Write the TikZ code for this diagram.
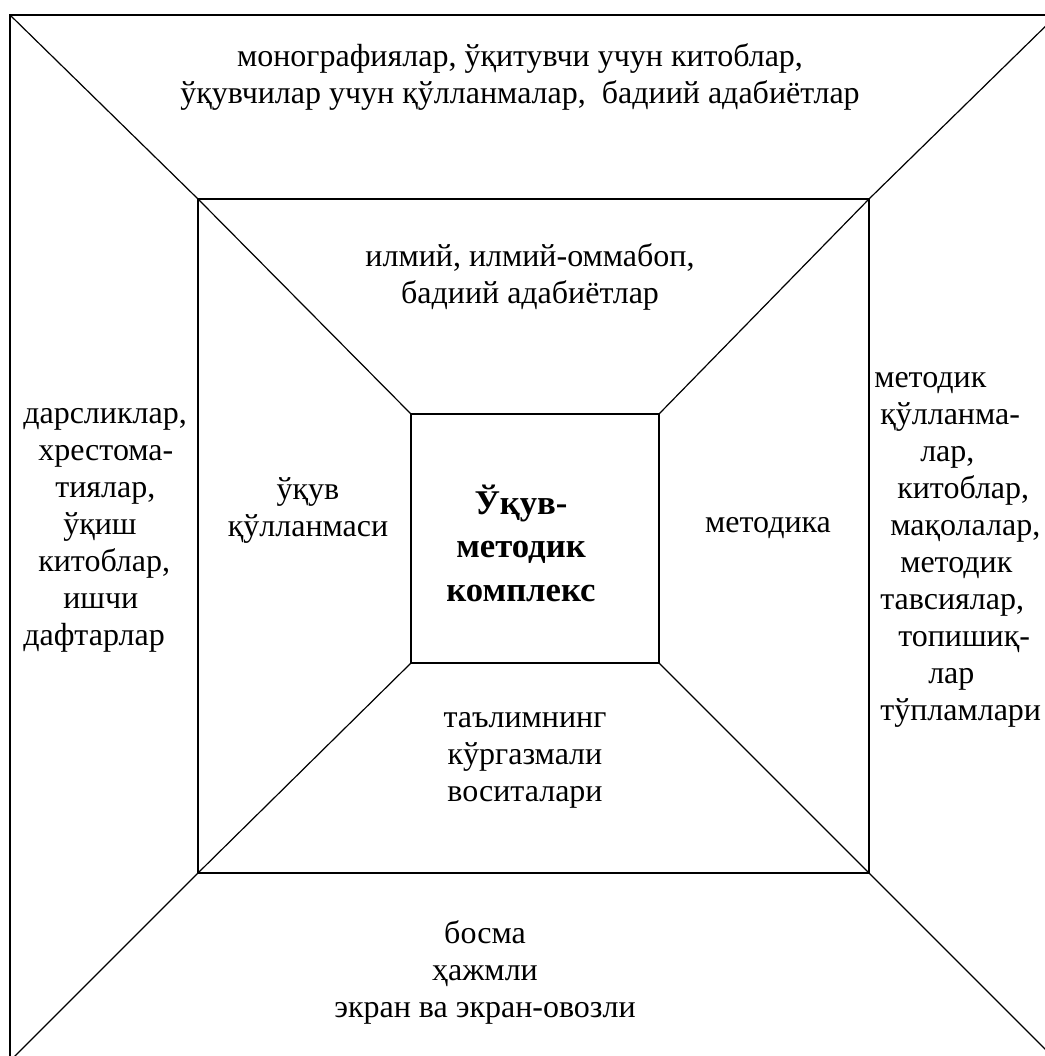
\documentclass[tikz,border=0pt]{standalone}
\usepackage{fontspec}
\setmainfont{Liberation Serif}
\begin{document}
\begin{tikzpicture}[x=0.75pt,y=-0.75pt]
\tikzset{
  frame/.style={line width=1.5pt, line join=miter},
  diag/.style={line width=0.9pt},
  txt/.style={font=\fontsize{24}{27.75}\selectfont, inner sep=0pt, align=center},
  sidetxt/.style={font=\fontsize{24}{27.75}\selectfont, inner sep=0pt, align=left, anchor=west},
  ctxt/.style={font=\fontsize{26}{32.6}\selectfont\bfseries, inner sep=0pt, align=center}
}
\useasboundingbox (0,0) rectangle (1045,1056);
\fill[white] (0,0) rectangle (1045,1056);
\clip (0,0) rectangle (1045,1056);
% corners
\coordinate (o1) at (10,15);   \coordinate (o2) at (1057,15);
\coordinate (o3) at (1057,1061); \coordinate (o4) at (10,1061);
\coordinate (m1) at (198,199); \coordinate (m2) at (869,199);
\coordinate (m3) at (869,873); \coordinate (m4) at (198,873);
\coordinate (i1) at (411,414); \coordinate (i2) at (659,414);
\coordinate (i3) at (659,663); \coordinate (i4) at (411,663);
% diagonals
\draw[diag] (o1) -- (m1) -- (i1);
\draw[diag] (o2) -- (m2) -- (i2);
\draw[diag] (o3) -- (m3) -- (i3);
\draw[diag] (o4) -- (m4) -- (i4);
% frames
\draw[frame] (o1) -- (o2) -- (o3) -- (o4) -- cycle;
\draw[frame] (m1) -- (m2) -- (m3) -- (m4) -- cycle;
\draw[frame] (i1) -- (i2) -- (i3) -- (i4) -- cycle;
% texts
\node[txt] (top) at (520,77) {монографиялар, ўқитувчи учун китоблар,\\ўқувчилар учун қўлланмалар,\ \ бадиий адабиётлар};
\node[txt] (mtop) at (530,277) {илмий, илмий-оммабоп,\\бадиий адабиётлар};
\node[txt] (mleft) at (308,510) {ўқув\\қўлланмаси};
\node[ctxt] (centre) at (521,543) {Ўқув-\\методик\\комплекс};
\node[txt] (mright) at (768,528) {методика};
\node[txt] (mbottom) at (525,760) {таълимнинг\\кўргазмали\\воситалари};
\node[txt] (bottom) at (485,972) {босма\\ҳажмли\\экран ва экран-овозли};
\node[sidetxt] (left) at (23,530) {дарсликлар,\\\hspace*{11.25pt}хрестома-\\\hspace*{24pt}тиялар,\\\hspace*{30pt}ўқиш\\\hspace*{11.25pt}китоблар,\\\hspace*{30pt}ишчи\\дафтарлар};
\node[sidetxt] (right) at (874,550) {методик\\\hspace*{4.5pt}қўлланма-\\\hspace*{34.5pt}лар,\\\hspace*{17.25pt}китоблар,\\\hspace*{12pt}мақолалар,\\\hspace*{19.5pt}методик\\\hspace*{4.5pt}тавсиялар,\\\hspace*{18pt}топишиқ-\\\hspace*{40.5pt}лар\\\hspace*{4.5pt}тўпламлари};
\end{tikzpicture}
\end{document}
